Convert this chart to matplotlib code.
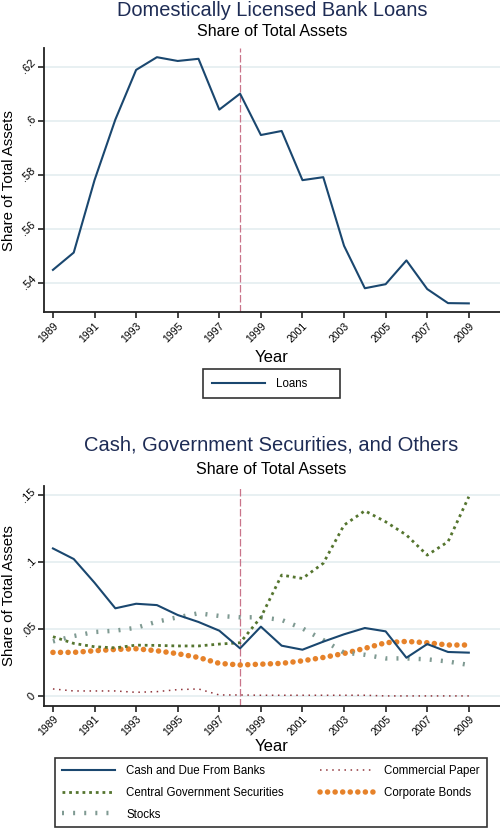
import matplotlib
matplotlib.use("Agg")
import matplotlib.pyplot as plt
from matplotlib.ticker import FixedLocator, FixedFormatter

plt.rcParams['font.family'] = ['Liberation Sans', 'DejaVu Sans']

years = list(range(1989, 2010))
loans = [0.5448, 0.5512, 0.578, 0.6004, 0.6188, 0.6235, 0.6221, 0.6229, 0.6041, 0.6100,
         0.5947, 0.5962, 0.5780, 0.5791, 0.5537, 0.5380, 0.5395, 0.5483, 0.5377, 0.5325, 0.5324]

cash = [0.1104, 0.1025, 0.0848, 0.0657, 0.0691, 0.0681, 0.0607, 0.0555, 0.0490, 0.0358,
        0.0520, 0.0378, 0.0348, 0.0408, 0.0463, 0.0510, 0.0485, 0.0288, 0.0390, 0.0331, 0.0326]
cgs = [0.0445, 0.0395, 0.0370, 0.0362, 0.0382, 0.0380, 0.0376, 0.0376, 0.0390, 0.0400,
       0.0590, 0.0905, 0.0880, 0.0993, 0.1278, 0.1385, 0.1303, 0.1204, 0.1054, 0.1154, 0.1490]
stocks = [0.0410, 0.0450, 0.0480, 0.0490, 0.0512, 0.0557, 0.0590, 0.0620, 0.0600, 0.0590,
          0.0590, 0.0570, 0.0507, 0.0420, 0.0326, 0.0310, 0.0283, 0.0283, 0.0276, 0.0260, 0.0234]
cp = [0.0055, 0.0040, 0.0040, 0.0040, 0.0030, 0.0035, 0.0050, 0.0055, 0.0010, 0.0010,
      0.0008, 0.0008, 0.0008, 0.0008, 0.0008, 0.0008, 0.0003, 0.0003, 0.0003, 0.0003, 0.0003]
bonds = [0.0328, 0.0328, 0.0340, 0.0350, 0.0355, 0.0340, 0.0318, 0.0290, 0.0246, 0.0234,
         0.0240, 0.0246, 0.0265, 0.0290, 0.0320, 0.0358, 0.0400, 0.0410, 0.0400, 0.0383, 0.0383]

xticks = list(range(1989, 2010, 2))
top_yticks = [0.54, 0.56, 0.58, 0.60, 0.62]
top_ylabels = ['.54', '.56', '.58', '.6', '.62']
bot_yticks = [0.0, 0.05, 0.10, 0.15]
bot_ylabels = ['0', '.05', '.1', '.15']
crisis_year = 1998

NAVY = '#1a476f'
GREEN = '#55752f'
TEAL = '#7f9a92'
MAROON = '#90353b'
ORANGE = '#e6822a'
TITLE_C = '#1e2c55'
GRID_C = '#e4edf0'
VLINE_C = '#c9748a'

W, H = 500, 831
fig = plt.figure(figsize=(W / 100, H / 100), dpi=100)


def make_axes(top_px, bottom_px):
    left = 44 / W
    return fig.add_axes([left, 1 - bottom_px / H, 1 - left, (bottom_px - top_px) / H])


def style(ax, yt, yl, ylim):
    ax.set_xlim(1988.57, 2010.5)
    ax.set_ylim(*ylim)
    for s in ['top', 'right']:
        ax.spines[s].set_visible(False)
    for s in ['left', 'bottom']:
        ax.spines[s].set_linewidth(1.3)
        ax.spines[s].set_color('#222222')
    ax.xaxis.set_major_locator(FixedLocator(xticks))
    ax.set_xticklabels([str(x) for x in xticks], rotation=45, ha='right',
                       rotation_mode='anchor', fontsize=7.5)
    ax.yaxis.set_major_locator(FixedLocator(yt))
    ax.yaxis.set_major_formatter(FixedFormatter(yl))
    for lab in ax.get_yticklabels():
        lab.set_rotation(45)
        lab.set_fontsize(8)
        lab.set_va('center')
    ax.tick_params(axis='both', length=4, width=1.2, color='#222222')
    ax.tick_params(axis='x', pad=2)
    ax.tick_params(axis='y', pad=0.5)
    for v in yt:
        ax.axhline(v, color=GRID_C, lw=1.2, zorder=0)
    ax.axvline(crisis_year, color=VLINE_C, lw=0.9, linestyle=(0, (6, 2)), zorder=1)
    ax.set_ylabel('Share of Total Assets', fontsize=10.8)
    ax.yaxis.set_label_coords(-0.0614, 0.5)
    ax.set_xlabel('Year', fontsize=12)


# ---------- Top panel ----------
ax1 = make_axes(48, 312.3)
style(ax1, top_yticks, top_ylabels, (0.5291, 0.6269))
ax1.xaxis.set_label_coords(0.5, -0.143)
l_loans, = ax1.plot(years, loans, color=NAVY, lw=1.5, label='Loans', zorder=3)
fig.text(0.544, 1 - 10 / H, 'Domestically Licensed Bank Loans', ha='center', va='center',
         fontsize=14.4, color=TITLE_C)
fig.text(0.544, 1 - 32 / H, 'Share of Total Assets', ha='center', va='center',
         fontsize=11.5, color='black')
leg1 = fig.legend(handles=[l_loans], loc='upper left', mode='expand',
                  bbox_to_anchor=(203 / W, 1 - 397 / H, 137 / W, 28 / H),
                  fontsize=8.3, frameon=True, fancybox=False, edgecolor='black',
                  handlelength=4.6, borderpad=0.75, handletextpad=1.0, borderaxespad=0)
leg1.get_frame().set_linewidth(1.2)

# ---------- Bottom panel ----------
ax2 = make_axes(486, 705.7)
style(ax2, bot_yticks, bot_ylabels, (-0.007, 0.157))
ax2.xaxis.set_label_coords(0.5, -0.152)
h_cash, = ax2.plot(years, cash, color=NAVY, lw=1.5, label='Cash and Due From Banks', zorder=5)
h_cgs, = ax2.plot(years, cgs, color=GREEN, lw=2.0, linestyle=(0, (1, 1.4)),
                  label='Central Government Securities', zorder=4)
h_st, = ax2.plot(years, stocks, color=TEAL, lw=3.2, linestyle=(0, (0.45, 2.05)),
                 label='Stocks', zorder=3)
h_cp, = ax2.plot(years, cp, color=MAROON, lw=1.1, linestyle=(0, (1, 3.0)),
                 label='Commercial Paper', zorder=3)
h_bd, = ax2.plot(years, bonds, color=ORANGE, lw=4.0, linestyle=(0, (0.01, 1.35)),
                 dash_capstyle='round', label='Corporate Bonds', zorder=2)
fig.text(0.542, 1 - 445 / H, 'Cash, Government Securities, and Others', ha='center',
         va='center', fontsize=14.5, color=TITLE_C)
fig.text(0.542, 1 - 469 / H, 'Share of Total Assets', ha='center', va='center',
         fontsize=11.5, color='black')
leg2 = fig.legend(handles=[h_cash, h_cgs, h_st, h_cp, h_bd], ncol=2, loc='upper left',
                  mode='expand', bbox_to_anchor=(55 / W, 1 - 829 / H, 432 / W, 71 / H),
                  fontsize=8.3, frameon=True, fancybox=False, edgecolor='black',
                  handlelength=4.6, borderpad=0.6, handletextpad=1.0, columnspacing=1.8,
                  labelspacing=0.85, borderaxespad=0)
leg2.get_frame().set_linewidth(1.2)
for h in leg2.legend_handles:
    if h.get_label() == 'Corporate Bonds':
        h.set_dash_capstyle('round')

fig.savefig('out.png', dpi=100)
